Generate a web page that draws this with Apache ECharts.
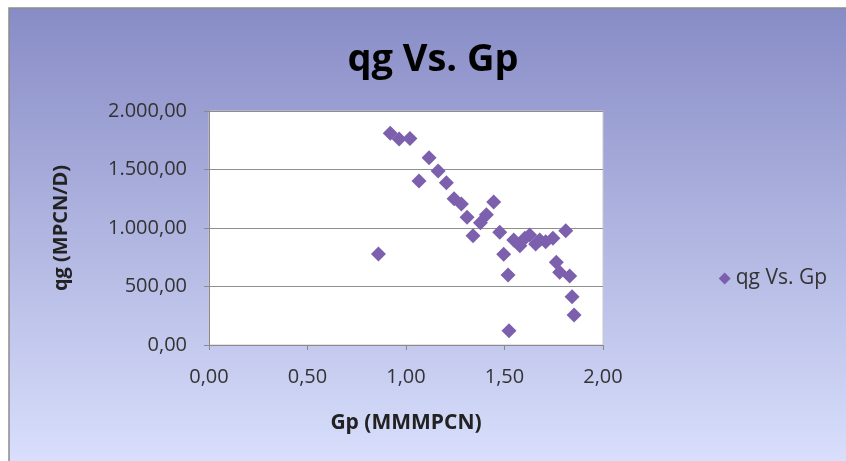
<!DOCTYPE html>
<html><head><meta charset="utf-8">
<script src="https://cdn.jsdelivr.net/npm/echarts@6/dist/echarts.min.js"></script>
<style>html,body{margin:0;padding:0;background:#fff}#c{width:846px;height:461px}</style>
</head><body><div id="c"></div>
<script>
var titleText = "qg Vs. Gp";
var seriesName = "qg Vs. Gp";
var xName = "Gp (MMMPCN)";
var yName = "qg (MPCN/D)";
var gpValues = [0.86,0.92,0.965,1.02,1.066,1.117,1.163,1.205,1.244,1.281,1.31,1.34,1.378,1.408,1.445,1.476,1.496,1.518,1.523,1.547,1.578,1.603,1.628,1.658,1.679,1.709,1.746,1.811,1.763,1.78,1.831,1.843,1.853];
var qgValues = [777,1809,1761,1766,1402,1601,1487,1387,1251,1205,1091,934,1045,1114,1222,963,775,598,122,897,849,912,940,863,897,883,912,977,707,621,590,413,256];

function fmt(v, d){
  var s = v.toFixed(d).split('.');
  var int = s[0].replace(/\B(?=(\d{3})+(?!\d))/g, '.');
  return int + ',' + s[1];
}
var data = gpValues.map(function(x,i){return [x, qgValues[i]];});
var chart = echarts.init(document.getElementById('c'));
chart.setOption({
  animation:false,
  graphic:[{type:'rect',z:-10,shape:{x:9,y:8,width:840,height:456},
    style:{fill:new echarts.graphic.LinearGradient(0,0,0,1,[{offset:0,color:'#888cc6'},{offset:1,color:'#d9dffc'}]),stroke:'#8c8c8c',lineWidth:1.5}}],
  title:{text:titleText,left:428,top:36,textAlign:'center',
    textStyle:{fontFamily:'Open Sans',fontWeight:'bold',fontSize:38,color:'#000'}},
  legend:{right:14,top:263,orient:'vertical',itemWidth:12,itemHeight:12,itemGap:4,
    textStyle:{fontFamily:'Open Sans',fontSize:21,color:'#333'},
    data:[{name:seriesName,icon:'diamond'}]},
  grid:{left:209,right:243,top:111,bottom:116,show:true,backgroundColor:'#fff',borderColor:'#c8c8d0',borderWidth:1},
  xAxis:{type:'value',min:0,max:2,interval:0.5,name:xName,nameLocation:'middle',nameGap:68,
    nameTextStyle:{fontFamily:'Open Sans',fontWeight:'bold',fontSize:21,color:'#222'},
    axisLine:{lineStyle:{color:'#8a8a8a'}},axisTick:{show:true,length:5,lineStyle:{color:'#8a8a8a'}},
    splitLine:{show:false},
    axisLabel:{fontFamily:'Open Sans',fontSize:20,color:'#333',margin:22,formatter:function(v){return fmt(v,2);}}},
  yAxis:{type:'value',min:0,max:2000,interval:500,name:yName,nameLocation:'middle',nameGap:138,
    nameTextStyle:{fontFamily:'Open Sans',fontWeight:'bold',fontSize:20,color:'#222'},
    axisLine:{show:true,lineStyle:{color:'#8a8a8a'}},axisTick:{show:true,length:5,lineStyle:{color:'#8a8a8a'}},
    splitLine:{lineStyle:{color:'#8f8f8f',width:1}},
    axisLabel:{fontFamily:'Open Sans',fontSize:20,color:'#333',margin:22,formatter:function(v){return fmt(v,2);}}},
  series:[{name:seriesName,type:'scatter',symbol:'diamond',symbolSize:15,data:data,
    itemStyle:{color:'#7d60ad',opacity:1}}]
});
</script></body></html>
